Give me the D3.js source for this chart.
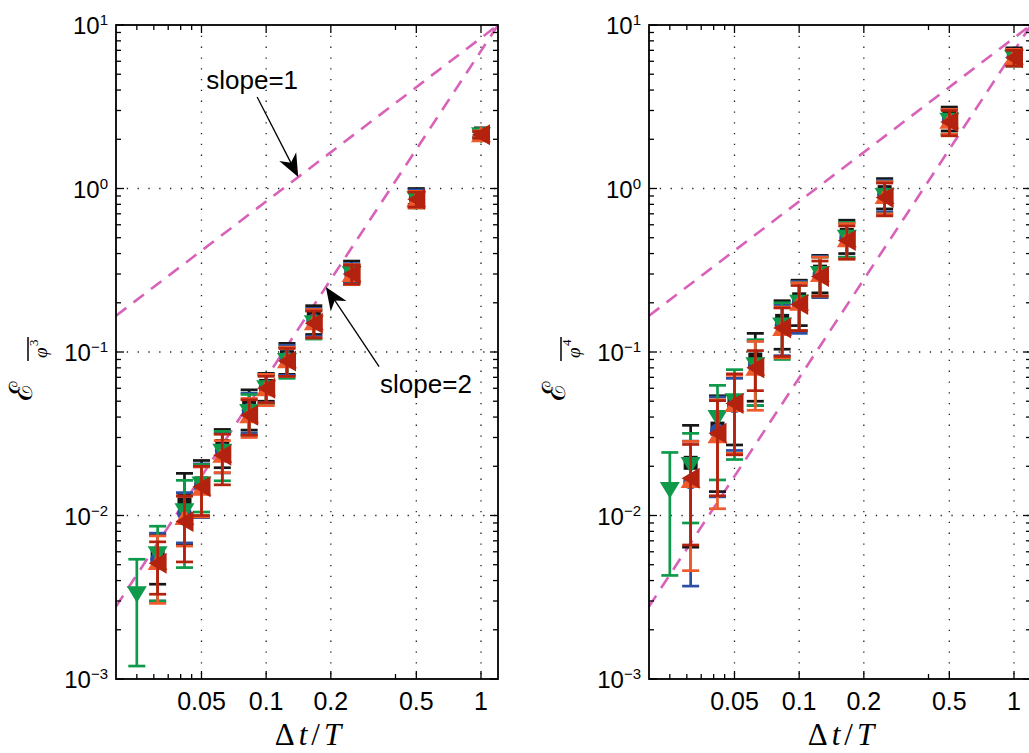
<!DOCTYPE html>
<html>
<head>
<meta charset="utf-8">
<script src="https://cdn.jsdelivr.net/npm/d3@7"></script>
<style>
  body { margin: 0; background: #fff; }
  svg { display: block; }
</style>
</head>
<body>
<svg id="chart" width="1029" height="753"></svg>
<script>
// time step ratios used in the runs
var dt = [1, 1/2, 1/4, 1/6, 1/8, 1/10, 1/12, 1/16, 1/20, 1/24, 1/32, 1/40];

var xTicks = [0.05, 0.1, 0.2, 0.5, 1];
var xTickLabels = ['0.05', '0.1', '0.2', '0.5', '1'];
var xMinorTicks = [0.025, 0.03, 0.035, 0.04, 0.045, 0.4];
var yTicks = [1e-3, 1e-2, 1e-1, 1, 10];
var yTickExp = ['\u22123', '\u22122', '\u22121', '0', '1'];

// guide lines, both go through (1.2, 10)
var slopes = [1, 2];
var slopeAnchor = [1.2, 10];

// left panel (phi^3): value and error bar half-length
var phi3Black     = [2.17, 0.90, 0.315, 0.160, 0.093, 0.062, 0.046, 0.0266, 0.0157, 0.0124, 0.0057];
var phi3BlackErr  = [0.10, 0.10, 0.045, 0.032, 0.020, 0.012, 0.0127, 0.0070, 0.0060, 0.0057, 0.0019];
var phi3Blue      = [2.15, 0.88, 0.305, 0.155, 0.091, 0.061, 0.044, 0.0250, 0.0152, 0.0103, 0.0054];
var phi3BlueErr   = [0.10, 0.10, 0.042, 0.030, 0.019, 0.012, 0.0120, 0.0068, 0.0055, 0.0035, 0.0024];
var phi3Green     = [2.12, 0.86, 0.300, 0.150, 0.088, 0.060, 0.043, 0.0245, 0.0155, 0.0106, 0.0058, 0.0033];
var phi3GreenErr  = [0.10, 0.10, 0.040, 0.030, 0.019, 0.012, 0.0120, 0.0082, 0.0050, 0.0058, 0.0028, 0.0021];
var phi3Orange    = [2.15, 0.86, 0.300, 0.152, 0.089, 0.060, 0.041, 0.0235, 0.0148, 0.0098, 0.0052];
var phi3OrangeErr = [0.10, 0.10, 0.042, 0.030, 0.018, 0.013, 0.0110, 0.0052, 0.0050, 0.0033, 0.0023];
var phi3Red       = [2.13, 0.86, 0.300, 0.150, 0.088, 0.060, 0.041, 0.0234, 0.0150, 0.0092, 0.0051];
var phi3RedErr    = [0.10, 0.09, 0.040, 0.028, 0.017, 0.011, 0.0100, 0.0080, 0.0050, 0.0040, 0.0018];

// right panel (phi^4)
var phi4Black     = [6.5, 2.70, 0.95, 0.52, 0.31, 0.210, 0.155, 0.090, 0.0500, 0.0340, 0.0210];
var phi4BlackErr  = [0.75, 0.45, 0.20, 0.12, 0.080, 0.065, 0.051, 0.040, 0.023, 0.020, 0.0146];
var phi4Blue      = [6.4, 2.60, 0.92, 0.50, 0.30, 0.200, 0.145, 0.082, 0.0470, 0.0330, 0.0161];
var phi4BlueErr   = [0.70, 0.45, 0.20, 0.12, 0.085, 0.070, 0.050, 0.035, 0.022, 0.020, 0.0124];
var phi4Green     = [6.3, 2.60, 0.90, 0.50, 0.30, 0.200, 0.145, 0.083, 0.0500, 0.0395, 0.0204, 0.0143];
var phi4GreenErr  = [0.70, 0.45, 0.20, 0.12, 0.080, 0.065, 0.055, 0.036, 0.028, 0.023, 0.0114, 0.010];
var phi4Orange    = [6.4, 2.60, 0.90, 0.49, 0.30, 0.200, 0.140, 0.080, 0.0480, 0.0310, 0.0165];
var phi4OrangeErr = [0.70, 0.45, 0.20, 0.12, 0.080, 0.065, 0.048, 0.036, 0.024, 0.020, 0.0119];
var phi4Red       = [6.3, 2.55, 0.88, 0.48, 0.29, 0.195, 0.140, 0.080, 0.0485, 0.0318, 0.0169];
var phi4RedErr    = [0.70, 0.45, 0.20, 0.11, 0.070, 0.060, 0.046, 0.022, 0.025, 0.0186, 0.0103];

// annotations (data coords): label position, arrow tail, arrow tip
var slope1Note = { text: 'slope=1', at: [0.0526, 4.06], tail: [0.0908, 3.63], tip: [0.141, 1.175] };
var slope2Note = { text: 'slope=2', at: [0.339, 0.0561], tail: [0.3355, 0.0813], tip: [0.1896, 0.2495] };

var colors = ['#161616', '#2c4fa3', '#0e9a4a', '#ee5a2c', '#b2220f'];
var markers = ['square', 'circle', 'down', 'up', 'left'];

var svg = d3.select('#chart');
var plotTop = 25, plotBottom = 679, panelW = 382;

function markerPath(type) {
  if (type == 'square') return 'M-7,-7H7V7H-7Z';
  if (type == 'circle') return 'M7.5,0A7.5,7.5 0 1,1 -7.5,0A7.5,7.5 0 1,1 7.5,0Z';
  if (type == 'down') return 'M-10,-8L10,-8L0,8.5Z';
  if (type == 'up') return 'M-10,8L10,8L0,-8.5Z';
  return 'M-9,0L9,-10.5L9,10.5Z';
}

function drawPanel(left, series, errs, expo, notes) {
  var x = d3.scaleLog().domain([0.02, 1.2]).range([left, left + panelW]);
  var y = d3.scaleLog().domain([1e-3, 10]).range([plotBottom, plotTop]);
  var g = svg.append('g');

  // dotted grid
  g.selectAll('.gx').data(xTicks).enter().append('line')
    .attr('x1', d => x(d)).attr('x2', d => x(d))
    .attr('y1', plotTop).attr('y2', plotBottom)
    .attr('stroke', '#222').attr('stroke-width', 1.3)
    .attr('stroke-dasharray', '1.3,9.5');
  g.selectAll('.gy').data(yTicks.slice(1, 4)).enter().append('line')
    .attr('y1', d => y(d)).attr('y2', d => y(d))
    .attr('x1', left).attr('x2', left + panelW)
    .attr('stroke', '#222').attr('stroke-width', 1.3)
    .attr('stroke-dasharray', '1.3,9.5');

  // slope guide lines
  var line = d3.line().x(d => x(d[0])).y(d => y(d[1]));
  slopes.forEach(function (k) {
    var pts = [0.02, 1.2].map(function (v) {
      return [v, slopeAnchor[1] * Math.pow(v / slopeAnchor[0], k)];
    });
    g.append('path').attr('d', line(pts))
      .attr('fill', 'none').attr('stroke', '#d862b9')
      .attr('stroke-width', 2.6).attr('stroke-dasharray', '13,9');
  });

  // error bars and markers
  series.forEach(function (vals, s) {
    var sg = g.append('g');
    var c = colors[s];
    var pts = vals.map(function (v, i) { return { x: dt[i], v: v, e: errs[s][i] }; });
    sg.selectAll('.eb').data(pts).enter().append('line')
      .attr('x1', d => x(d.x)).attr('x2', d => x(d.x))
      .attr('y1', d => y(d.v + d.e)).attr('y2', d => y(d.v - d.e))
      .attr('stroke', c).attr('stroke-width', 2.7);
    ['hi', 'lo'].forEach(function (side) {
      sg.selectAll('.cap' + side).data(pts).enter().append('line')
        .attr('x1', d => x(d.x) - 8.5).attr('x2', d => x(d.x) + 8.5)
        .attr('y1', d => y(side == 'hi' ? d.v + d.e : d.v - d.e))
        .attr('y2', d => y(side == 'hi' ? d.v + d.e : d.v - d.e))
        .attr('stroke', c).attr('stroke-width', 2.7);
    });
    sg.selectAll('.mk').data(pts).enter().append('path')
      .attr('d', markerPath(markers[s]))
      .attr('transform', d => 'translate(' + x(d.x) + ',' + y(d.v) + ')')
      .attr('fill', c);
  });

  // box
  g.append('rect').attr('x', left).attr('y', plotTop)
    .attr('width', panelW).attr('height', plotBottom - plotTop)
    .attr('fill', 'none').attr('stroke', '#000').attr('stroke-width', 1.8);

  // ticks, inward on all four sides
  var yMinor = [];
  for (var p = -3; p < 1; p++) for (var m = 2; m < 10; m++) yMinor.push(m * Math.pow(10, p));
  function yt(vals, len) {
    g.selectAll(null).data(vals).enter().append('line')
      .attr('x1', left).attr('x2', left + len)
      .attr('y1', d => y(d)).attr('y2', d => y(d))
      .attr('stroke', '#000').attr('stroke-width', 1.3);
    g.selectAll(null).data(vals).enter().append('line')
      .attr('x1', left + panelW).attr('x2', left + panelW - len)
      .attr('y1', d => y(d)).attr('y2', d => y(d))
      .attr('stroke', '#000').attr('stroke-width', 1.3);
  }
  function xt(vals, len) {
    g.selectAll(null).data(vals).enter().append('line')
      .attr('x1', d => x(d)).attr('x2', d => x(d))
      .attr('y1', plotBottom).attr('y2', plotBottom - len)
      .attr('stroke', '#000').attr('stroke-width', 1.3);
    g.selectAll(null).data(vals).enter().append('line')
      .attr('x1', d => x(d)).attr('x2', d => x(d))
      .attr('y1', plotTop).attr('y2', plotTop + len)
      .attr('stroke', '#000').attr('stroke-width', 1.3);
  }
  yt(yTicks, 8); yt(yMinor, 5);
  xt(xTicks, 8); xt(xMinorTicks, 5);

  // tick labels
  g.selectAll('.xl').data(xTicks).enter().append('text')
    .attr('x', d => x(d)).attr('y', 710)
    .attr('text-anchor', 'middle')
    .style('font-family', 'Liberation Sans, Arial, sans-serif').style('font-size', '25px')
    .text((d, i) => xTickLabels[i]);
  var yl = g.selectAll('.yl').data(yTicks).enter().append('text')
    .attr('x', left - 8).attr('y', d => y(d) + 9)
    .attr('text-anchor', 'end')
    .style('font-family', 'Liberation Sans, Arial, sans-serif').style('font-size', '24px');
  yl.append('tspan').text('10');
  yl.append('tspan').attr('dy', -9).style('font-size', '15px').text((d, i) => yTickExp[i]);

  // axis labels
  var xl = g.append('text').attr('x', left + panelW / 2 + 3).attr('y', 745)
    .attr('text-anchor', 'middle')
    .style('font-family', 'Liberation Serif, serif').style('font-size', '31px')
    .style('letter-spacing', '4px');
  xl.append('tspan').text('\u0394');
  xl.append('tspan').style('font-style', 'italic').text('t');
  xl.append('tspan').text('/');
  xl.append('tspan').style('font-style', 'italic').text('T');

  var lab = g.append('g').attr('transform', 'translate(' + (left - 84) + ',401) rotate(-90)');
  lab.append('text').attr('x', 0).attr('y', 0)
    .style('font-family', 'DejaVu Serif, serif').style('font-size', '32px')
    .text('\u2130');
  lab.append('line').attr('x1', 40).attr('x2', 64).attr('y1', -4).attr('y2', -4)
    .attr('stroke', '#000').attr('stroke-width', 1.5);
  lab.append('text').attr('x', 43).attr('y', 15)
    .style('font-family', 'Liberation Serif, serif').style('font-style', 'italic').style('font-size', '19px')
    .text('\u03c6');
  lab.append('text').attr('x', 55).attr('y', 6)
    .style('font-family', 'Liberation Serif, serif').style('font-size', '13px')
    .text(expo);

  // slope annotations
  notes.forEach(function (n) {
    g.append('text').attr('x', x(n.at[0])).attr('y', y(n.at[1]))
      .style('font-family', 'Liberation Sans, Arial, sans-serif').style('font-size', '26px')
      .text(n.text);
    var x1 = x(n.tail[0]), y1 = y(n.tail[1]), x2 = x(n.tip[0]), y2 = y(n.tip[1]);
    var a = Math.atan2(y2 - y1, x2 - x1), L = 23, W = 9.5;
    var ux = Math.cos(a), uy = Math.sin(a);
    g.append('line').attr('x1', x1).attr('y1', y1)
      .attr('x2', x2 - ux * 14).attr('y2', y2 - uy * 14)
      .attr('stroke', '#000').attr('stroke-width', 1.3);
    var bx = x2 - ux * L, by = y2 - uy * L;
    var nx = x2 - ux * (L - 7), ny = y2 - uy * (L - 7);
    g.append('path')
      .attr('d', 'M' + x2 + ',' + y2 +
        'L' + (bx - uy * W) + ',' + (by + ux * W) +
        'L' + nx + ',' + ny +
        'L' + (bx + uy * W) + ',' + (by - ux * W) + 'Z')
      .attr('fill', '#000');
  });
}

drawPanel(116,
  [phi3Black, phi3Blue, phi3Green, phi3Orange, phi3Red],
  [phi3BlackErr, phi3BlueErr, phi3GreenErr, phi3OrangeErr, phi3RedErr],
  '3', [slope1Note, slope2Note]);
drawPanel(649,
  [phi4Black, phi4Blue, phi4Green, phi4Orange, phi4Red],
  [phi4BlackErr, phi4BlueErr, phi4GreenErr, phi4OrangeErr, phi4RedErr],
  '4', []);
</script>
</body>
</html>
